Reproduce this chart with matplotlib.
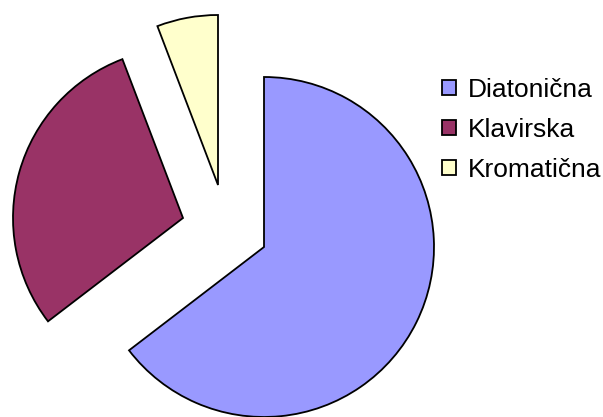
import matplotlib.pyplot as plt

plt.rcParams["font.family"] = ["Liberation Sans", "DejaVu Sans"]

# slice shares (percent)
labels = ["Diatonična", "Klavirska", "Kromatična"]
shares = [64.6, 29.6, 5.8]
colors = ["#9999FF", "#993366", "#FFFFCC"]

# pie placement in pixel units
CENTER = (264, 170)
RADIUS = 170
# each slice is pulled out by its own offset (pixels)
offsets = [(0, 0), (-81, 29), (-46, 62)]


def main() -> None:
    fig = plt.figure(figsize=(6.03, 4.17), dpi=100)
    ax = fig.add_axes([0, 0, 1, 1])

    wedges, _ = ax.pie(
        shares,
        colors=colors,
        startangle=90,
        counterclock=False,
        radius=RADIUS,
        center=CENTER,
        wedgeprops=dict(edgecolor="black", linewidth=1.3),
    )
    for wedge, (dx, dy) in zip(wedges, offsets):
        wedge.set_center((CENTER[0] + dx, CENTER[1] + dy))

    ax.set_xlim(0, 603)
    ax.set_ylim(0, 417)
    ax.set_aspect("equal")
    ax.axis("off")

    ax.legend(
        wedges,
        labels,
        loc="upper left",
        bbox_to_anchor=(442, 417 - 78),
        bbox_transform=ax.transData,
        frameon=False,
        fontsize=19,
        borderpad=0,
        borderaxespad=0,
        handlelength=0.53,
        handleheight=0.53,
        handletextpad=0.45,
        labelspacing=0.6,
    )

    fig.savefig("out.png", dpi=100)
    plt.close(fig)


if __name__ == "__main__":
    main()
